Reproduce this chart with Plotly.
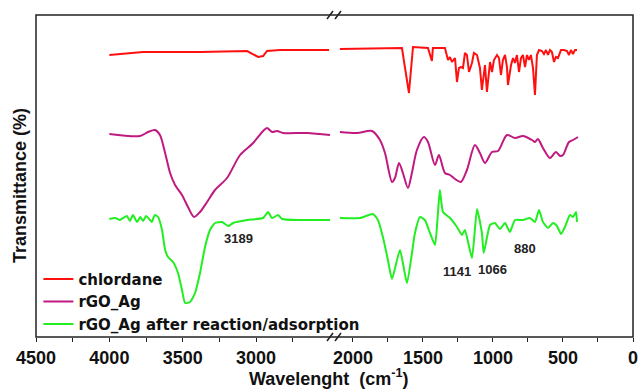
import plotly.graph_objects as go

# ---------------- data (wavenumber cm-1, transmittance in arbitrary offset units) ----------------
chl_left_x = [4000, 3770, 3382, 3061, 2986, 2952, 2925, 2836, 2502]
chl_left_y = [282, 285, 285, 286, 280, 281, 286, 287, 287]
chl_right_x = [2093, 1650, 1600, 1571, 1464, 1436, 1429, 1343, 1321, 1307, 1293, 1271, 1257, 1243, 1229,
               1214, 1200, 1186, 1171, 1150, 1136, 1114, 1093, 1079, 1057, 1043, 1021, 1007, 993, 971,
               957, 943, 929, 914, 900, 893, 871, 857, 843, 829, 814, 800, 786, 771, 757, 743, 729, 714,
               700, 686, 671, 650, 636, 621, 607, 593, 579, 564, 550, 536, 514, 493, 471, 457, 443, 429,
               414, 400]
chl_right_y = [288, 289, 244, 290, 289, 276, 289, 289, 277, 280, 275, 279, 255, 269, 270,
               269, 284, 282, 265, 274, 284, 282, 269, 247, 272, 245, 275, 265, 277, 282,
               279, 262, 277, 282, 270, 252, 272, 279, 274, 282, 265, 279, 282, 270, 282, 277, 282, 269,
               242, 282, 287, 286, 283, 287, 282, 287, 285, 275, 280, 279, 287, 287, 286, 282, 287, 283,
               287, 287]

rgo_left_x = [4000, 3791, 3736, 3689, 3655, 3620, 3586, 3552, 3505, 3464, 3423, 3382, 3334, 3280, 3198,
              3109, 3020, 2952, 2925, 2891, 2857, 2816, 2652, 2496]
rgo_left_y = [203, 201, 205, 207, 202, 184, 164, 152, 142, 130, 120, 125, 135, 147, 159,
              182, 194, 206, 209, 205, 206, 204, 204, 202]
rgo_right_x = [2093, 1971, 1864, 1807, 1771, 1721, 1700, 1671, 1643, 1607, 1579, 1543, 1493, 1464, 1414,
               1386, 1343, 1307, 1271, 1229, 1186, 1129, 1093, 1057, 1007, 964, 900, 843, 786, 721,
               700, 679, 643, 593, 550, 521, 500, 457, 429, 393]
rgo_right_y = [205, 204, 206, 197, 184, 155, 159, 174, 164, 149, 164, 187, 200, 195, 172,
               182, 164, 162, 158, 155, 167, 192, 184, 174, 185, 186, 202, 199, 201, 197,
               195, 198, 189, 179, 185, 181, 182, 195, 197, 200]

ads_left_x = [4000, 3960, 3930, 3907, 3880, 3860, 3839, 3811, 3790, 3770, 3750, 3723, 3710, 3700, 3689,
              3668, 3641, 3620, 3600, 3566, 3532, 3505, 3484, 3450, 3416, 3382, 3348, 3314, 3280, 3232,
              3189, 3157, 3061, 2952, 2918, 2891, 2850, 2823, 2700, 2496]
ads_left_y = [118, 119, 117, 119, 121, 116, 122, 115, 120, 116, 121, 117, 115, 119, 122,
              120, 107, 87, 80, 75, 64, 47, 34, 35, 44, 64, 90, 107, 114, 115,
              111, 114, 117, 119, 125, 119, 122, 118, 117, 117]
ads_right_x = [2093, 1950, 1857, 1821, 1786, 1750, 1721, 1664, 1614, 1557, 1521, 1486, 1450, 1414, 1393,
               1379, 1357, 1307, 1257, 1221, 1200, 1150, 1114, 1079, 1066, 1021, 986, 950, 914, 879,
               843, 786, 736, 700, 671, 643, 607, 571, 543, 514, 486, 450, 429, 407, 400]
ads_right_y = [119, 119, 123, 117, 100, 77, 58, 87, 54, 104, 120, 117, 104, 92, 124,
               147, 125, 119, 110, 102, 107, 79, 128, 104, 84, 112, 114, 108, 114, 105,
               117, 117, 119, 115, 127, 115, 109, 114, 111, 103, 110, 122, 120, 125, 115]

series_names = ["chlordane", "rGO_Ag", "rGO_Ag after reaction/adsorption"]
series_colors = ["#FF1010", "#C01A80", "#22EE22"]
series_smooth = [0.0, 0.8, 0.5]

left_major = [4500, 4000, 3500, 3000]
left_minor = [4250, 3750, 3250, 2750]
right_major = [2000, 1500, 1000, 500, 0]
right_minor = [1750, 1250, 750, 250]

peak_labels = ["3189", "1141", "1066", "880"]

# ---------------- figure ----------------
data = [
    (chl_left_x, chl_left_y, chl_right_x, chl_right_y),
    (rgo_left_x, rgo_left_y, rgo_right_x, rgo_right_y),
    (ads_left_x, ads_left_y, ads_right_x, ads_right_y),
]

fig = go.Figure()
for (lx, ly, rx, ry), name, col, sm in zip(data, series_names, series_colors, series_smooth):
    ln = dict(color=col, width=2)
    if sm > 0:
        ln.update(shape="spline", smoothing=sm)
    fig.add_trace(go.Scatter(x=lx, y=ly, mode="lines", name=name, legendgroup=name,
                             line=ln, xaxis="x", yaxis="y"))
    fig.add_trace(go.Scatter(x=rx, y=ry, mode="lines", name=name, legendgroup=name, showlegend=False,
                             line=ln, xaxis="x2", yaxis="y"))

W, H = 638, 391
L, R, T, B = 36, 5, 15, 54
pw, ph = W - L - R, H - T - B
brk = (335 - L) / pw

FONT = "Liberation Sans, Arial"
tickfont = dict(family=FONT, size=18, color="#111", weight="bold")

def xaxis_cfg(domain, rng, major, minor):
    return dict(domain=domain, range=rng, tickmode="array", tickvals=major,
                ticktext=[str(v) for v in major], ticklabeloverflow="allow", automargin=False,
                ticks="outside", ticklen=4, tickcolor="#222", tickwidth=1,
                minor=dict(tickmode="array", tickvals=minor, ticks="outside", ticklen=4,
                           tickcolor="#222", tickwidth=1, showgrid=False),
                showgrid=False, zeroline=False, showline=False, tickfont=tickfont, anchor="y")

fig.update_layout(
    width=W, height=H,
    margin=dict(l=L, r=R, t=T, b=B, autoexpand=False),
    paper_bgcolor="white", plot_bgcolor="white",
    xaxis=xaxis_cfg([0, brk], [4500, 2462], left_major, left_minor),
    xaxis2=xaxis_cfg([brk, 1], [2128, 0], right_major, right_minor),
    yaxis=dict(range=[0, 322], showticklabels=False, ticks="", showgrid=False, zeroline=False,
               showline=False, anchor="x", automargin=False),
    legend=dict(x=0.004, y=-0.012, xanchor="left", yanchor="bottom", bgcolor="rgba(0,0,0,0)",
                font=dict(family="DejaVu Sans", size=15, color="#111", weight="bold"),
                tracegroupgap=0),
    showlegend=True,
)

def px2paper(px, py):
    return (px - L) / pw, (H - B - py) / ph

shapes = [dict(type="rect", xref="paper", yref="paper", x0=0, y0=0, x1=1, y1=1,
               line=dict(color="#222", width=1.5))]
for ytop in (15, 337):
    for dx in (0, 8):
        x0, y0 = px2paper(327 + dx, ytop + 4)
        x1, y1 = px2paper(333 + dx, ytop - 4)
        shapes.append(dict(type="line", xref="paper", yref="paper", x0=x0, y0=y0, x1=x1, y1=y1,
                           line=dict(color="#222", width=1.5)))
fig.update_layout(shapes=shapes)

annfont = dict(family=FONT, size=13, color="#222", weight="bold")
anns = [
    dict(x=3123, y=99, xref="x", yref="y", text=peak_labels[0], showarrow=False, font=annfont),
    dict(x=1257, y=66, xref="x2", yref="y", text=peak_labels[1], showarrow=False, font=annfont),
    dict(x=1000, y=68, xref="x2", yref="y", text=peak_labels[2], showarrow=False, font=annfont),
    dict(x=771, y=89, xref="x2", yref="y", text=peak_labels[3], showarrow=False, font=annfont),
]
tx, ty = px2paper(329, 391)
anns.append(dict(x=tx, y=ty, xref="paper", yref="paper", text="Wavelenght  (cm<sup>-1</sup>)",
                 showarrow=False, xanchor="center", yanchor="bottom",
                 font=dict(family=FONT, size=18, color="#111", weight="bold")))
yx, yy = px2paper(20, 186)
anns.append(dict(x=yx, y=yy, xref="paper", yref="paper", text="Transmittance (%)", textangle=-90,
                 showarrow=False, xanchor="center", yanchor="middle",
                 font=dict(family=FONT, size=18, color="#111", weight="bold")))
fig.update_layout(annotations=anns)

fig.write_html("out.html")
